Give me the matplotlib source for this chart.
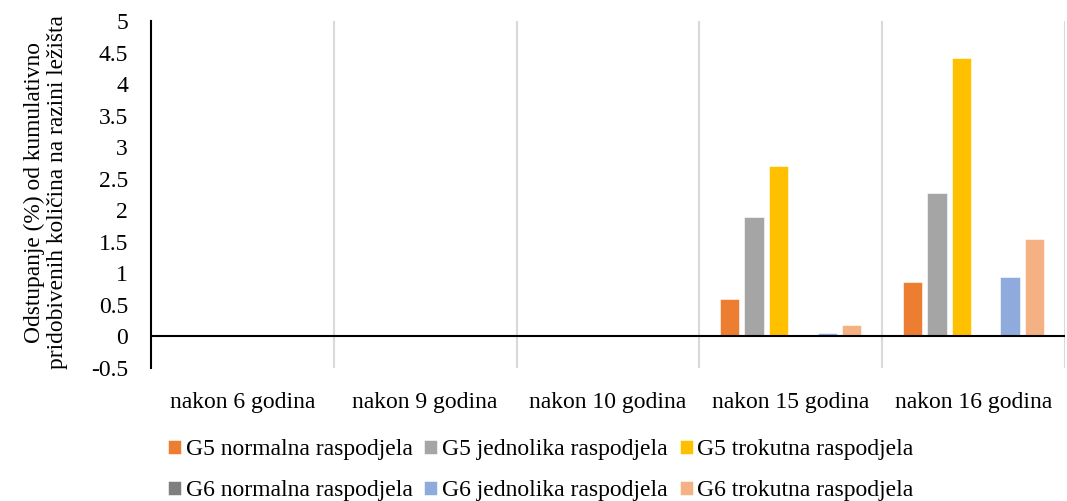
import numpy as np
import matplotlib
matplotlib.use('Agg')
import matplotlib.pyplot as plt
from matplotlib.ticker import MultipleLocator, FixedLocator

plt.rcParams['font.family'] = ['Liberation Serif', 'DejaVu Serif']

#--------------------------------------------------------------------------------------------------------#
# Data
#--------------------------------------------------------------------------------------------------------#
categories = ['nakon 6 godina', 'nakon 9 godina', 'nakon 10 godina', 'nakon 15 godina', 'nakon 16 godina']
g5_normalna = [0, 0, 0, 0.60, 0.86]
g5_jednolika = [0, 0, 0, 1.89, 2.27]
g5_trokutna = [0, 0, 0, 2.70, 4.42]
g6_normalna = [0, 0, 0, 0, 0]
g6_jednolika = [0, 0, 0, 0.055, 0.94]
g6_trokutna = [0, 0, 0, 0.18, 1.545]

series = [
    ('G5 normalna raspodjela', g5_normalna, '#ED7D31'),
    ('G5 jednolika raspodjela', g5_jednolika, '#A5A5A5'),
    ('G5 trokutna raspodjela', g5_trokutna, '#FFC000'),
    ('G6 normalna raspodjela', g6_normalna, '#7F7F7F'),
    ('G6 jednolika raspodjela', g6_jednolika, '#8FAADC'),
    ('G6 trokutna raspodjela', g6_trokutna, '#F4B183'),
]

#--------------------------------------------------------------------------------------------------------#
# Plotting
#--------------------------------------------------------------------------------------------------------#
fig = plt.figure(figsize=(10.67, 5.01), dpi=100)
ax = fig.add_axes([0.1415, 0.2655, 0.8565, 0.6925])

x = np.arange(len(categories))
step = 0.1335
width = 0.106
handles = []
for i, (name, vals, col) in enumerate(series):
    b = ax.bar(x + (i - 2.5) * step, vals, width, color=col, edgecolor='white', linewidth=0.4, label=name, zorder=3)
    handles.append(b)

ax.set_xlim(-0.5, len(categories) - 0.5)
ax.set_ylim(-0.5, 5)
ax.yaxis.set_major_locator(MultipleLocator(0.5))
ax.set_yticklabels([('%g' % v) for v in ax.get_yticks()])
ax.set_xticks(x)
ax.set_xticklabels(categories)
ax.xaxis.set_minor_locator(FixedLocator(np.arange(0.5, len(categories), 1)))
ax.grid(which='minor', axis='x', color='#D9D9D9', linewidth=1.5, zorder=0)
ax.tick_params(axis='both', which='both', length=0, labelsize=17)
ax.tick_params(axis='x', pad=17)
ax.tick_params(axis='y', pad=16.5)

for s in ['top', 'right', 'bottom']:
    ax.spines[s].set_visible(False)
ax.spines['left'].set_linewidth(1.5)
ax.axhline(0, color='black', linewidth=1.5, zorder=4)

fig.text(0.0426, 0.616, 'Odstupanje (%) od kumulativno\npridobivenih količina na razini ležišta',
         rotation=90, ha='center', va='center', fontsize=16.8, linespacing=1.12)

# legend rows: G5 on top, G6 below
order = [0, 3, 1, 4, 2, 5]
leg = fig.legend([handles[k] for k in order], [series[k][0] for k in order],
                 ncol=3, loc='center left', bbox_to_anchor=(0.1575, 0.061), frameon=False,
                 fontsize=17, handlelength=0.55, handleheight=0.55, handletextpad=0.2,
                 columnspacing=0.5, labelspacing=0.85, borderaxespad=0, borderpad=0)

fig.savefig('out.png', dpi=100)
